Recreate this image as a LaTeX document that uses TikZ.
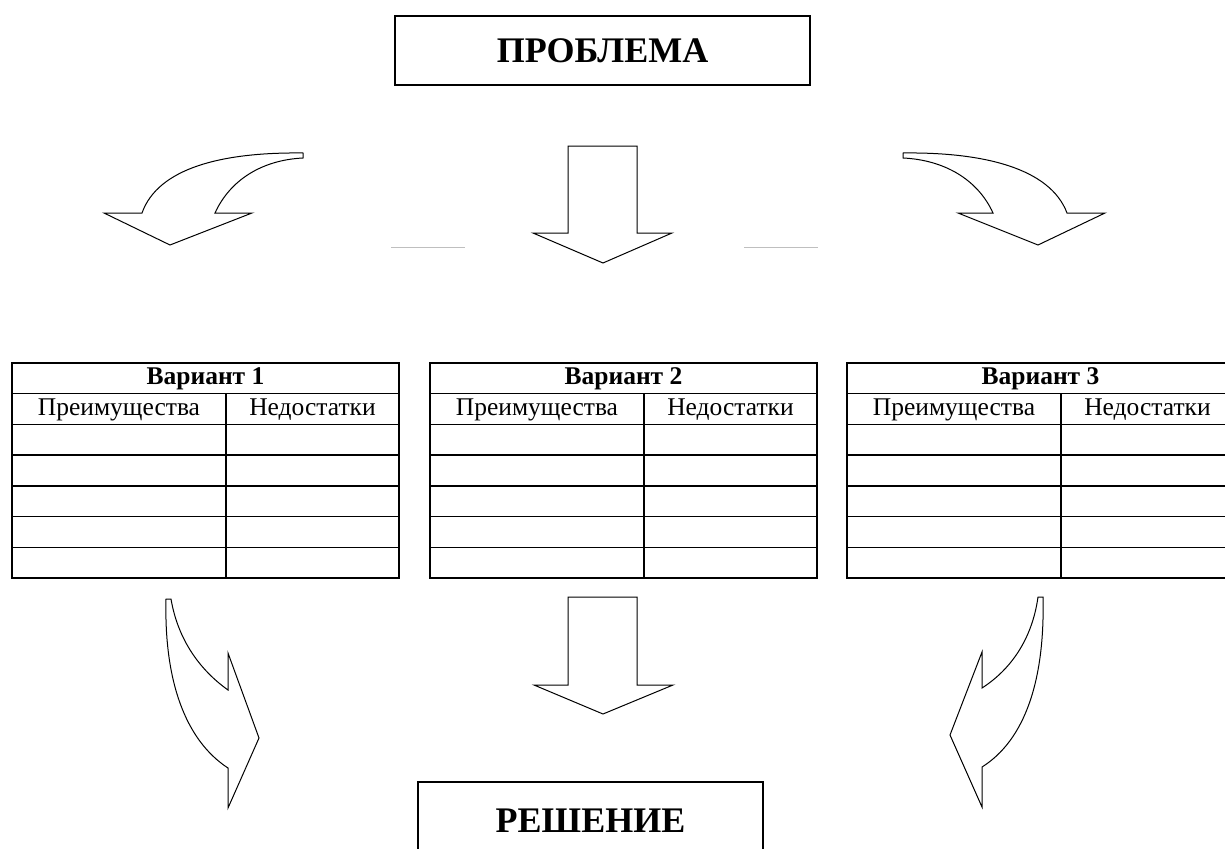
\documentclass[tikz,border=0pt]{standalone}
\usepackage{fontspec}
\setmainfont{Liberation Serif}
\begin{document}
\begin{tikzpicture}[x=1pt,y=-1pt,
  titlebox/.style={draw, line width=1.3pt, inner sep=0pt, font=\fontsize{36}{42}\selectfont\bfseries},
  blockarrow/.style={draw, fill=white, line width=1pt, line join=miter},
  tline/.style={line width=1.3pt},
  hdr/.style={font=\fontsize{25.5}{30}\selectfont\bfseries, inner sep=0pt},
  cell/.style={font=\fontsize{25.5}{30}\selectfont, inner sep=0pt},
  faint/.style={draw=black!25, line width=1pt}]
\useasboundingbox (0,0) rectangle (1225,848);

% problem and solution boxes
\node[titlebox, minimum width=415pt, minimum height=69pt] (prob) at (602.5,50.5) {ПРОБЛЕМА};
\node[titlebox, minimum width=345pt, minimum height=78pt] (sol) at (590.5,821) {РЕШЕНИЕ};

% tables
\foreach \k/\xo in {1/12,2/430,3/847}{
  \draw[tline] (\xo,363) rectangle (\xo+387,578);
  \foreach \r in {1,...,6}{
    \draw[tline] (\xo,363+30.714*\r) -- (\xo+387,363+30.714*\r);
  }
  \draw[tline] (\xo+214,393.714) -- (\xo+214,578);
  \node[hdr] (v\k) at (\xo+193.5,379) {Вариант \k};
  \node[cell] (p\k) at (\xo+107,410) {Преимущества};
  \node[cell] (n\k) at (\xo+300.5,410) {Недостатки};
}

% top middle straight arrow
\draw[blockarrow] (568,146) -- (637,146) -- (637,233) -- (672,233) -- (603,263)
  -- (533,233) -- (568,233) -- cycle;
% faint lines
\draw[faint] (391,247) -- (465,247);
\draw[faint] (744,247) -- (818,247);

% top left curved arrow
\draw[blockarrow] (303,153) .. controls (222,152) and (158,168) .. (142,213)
  -- (104,213) -- (170,245) -- (252,213) -- (215,213)
  .. controls (230,180) and (262,160) .. (303,158) -- cycle;

% top right curved arrow
\draw[blockarrow] (903,153) .. controls (983,152) and (1050,168) .. (1067,213)
  -- (1105,213) -- (1038,245) -- (958,213) -- (993,213)
  .. controls (978,180) and (945,160) .. (903,158) -- cycle;

% bottom middle straight arrow
\draw[blockarrow] (568,597) -- (637,597) -- (637,685) -- (673,685) -- (603,714)
  -- (534,685) -- (568,685) -- cycle;

% bottom left curved arrow
\draw[blockarrow] (166,599) .. controls (164,680) and (185,740) .. (228,768)
  -- (228,808) -- (259,738) -- (228,653) -- (228,690)
  .. controls (200,670) and (178,640) .. (171,599) -- cycle;

% bottom right curved arrow
\draw[blockarrow] (1043,597) .. controls (1045,680) and (1025,740) .. (982,767)
  -- (982,807) -- (950,735) -- (982,652) -- (982,688)
  .. controls (1010,670) and (1032,640) .. (1038,597) -- cycle;
\end{tikzpicture}
\end{document}
